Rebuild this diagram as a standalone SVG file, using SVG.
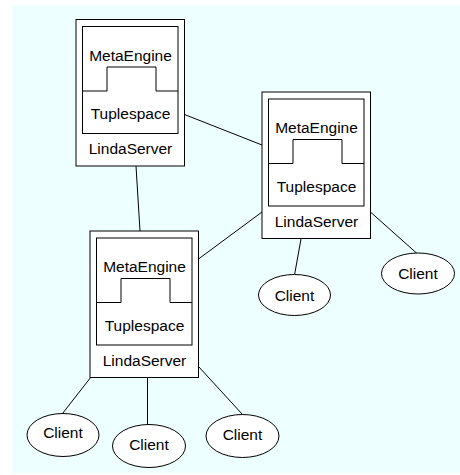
<svg xmlns="http://www.w3.org/2000/svg" width="460" height="475" viewBox="0 0 460 475">
<style>
.bg{fill:#eeffff}
.box{fill:#fff;stroke:#000;stroke-width:1}
.in{fill:none;stroke:#000;stroke-width:1}
.ln{stroke:#000;stroke-width:1;fill:none}
text{font-family:"Liberation Sans",Arial,sans-serif;font-size:15.5px;fill:#000;text-anchor:middle}
</style>
<defs>
<g id="server">
<rect class="box" x="0" y="0" width="108.5" height="146.5"/>
<rect class="in" x="6.5" y="7" width="95.5" height="107"/>
<path class="in" d="M6.5,71.5 H31 V47.5 H80 V71.5 H102"/>
<text x="54.5" y="41">MetaEngine</text>
<text x="54.5" y="99.5">Tuplespace</text>
<text x="54.5" y="134.5">LindaServer</text>
</g>
</defs>
<rect class="bg" x="12" y="5" width="448" height="468"/>
<g id="connectors">
<line class="ln" x1="136" y1="166" x2="140" y2="231"/>
<line class="ln" x1="184.5" y1="114.5" x2="262" y2="145"/>
<line class="ln" x1="198.5" y1="259" x2="262" y2="212"/>
<line class="ln" x1="301" y1="239" x2="294.5" y2="275"/>
<line class="ln" x1="371" y1="212.5" x2="417" y2="253.5"/>
<line class="ln" x1="91" y1="377" x2="62.5" y2="413.5"/>
<line class="ln" x1="147.5" y1="377.5" x2="147.5" y2="424.5"/>
<line class="ln" x1="198.5" y1="366.5" x2="242.5" y2="414.5"/>
</g>
<g id="server1"><use href="#server" x="76" y="19.5"/></g>
<g id="server2"><use href="#server" x="262" y="92"/></g>
<g id="server3"><use href="#server" x="90" y="231"/></g>
<g id="client1"><ellipse class="box" cx="63" cy="435" rx="36" ry="21.5"/><text x="63" y="438">Client</text></g>
<g id="client2"><ellipse class="box" cx="149" cy="446" rx="36.5" ry="21.5"/><text x="149" y="449.5">Client</text></g>
<g id="client3"><ellipse class="box" cx="242.5" cy="436" rx="36.5" ry="21.5"/><text x="242.5" y="440">Client</text></g>
<g id="client4"><ellipse class="box" cx="294.5" cy="295" rx="36" ry="20.5"/><text x="294.5" y="300.5">Client</text></g>
<g id="client5"><ellipse class="box" cx="418" cy="273.5" rx="36.5" ry="20.5"/><text x="418" y="279">Client</text></g>
</svg>
